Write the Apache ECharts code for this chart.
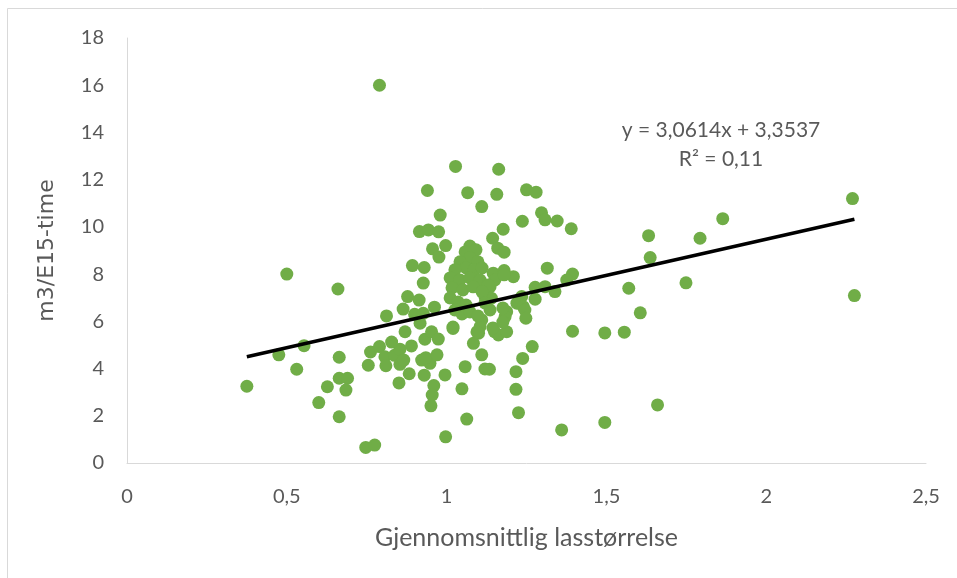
<!DOCTYPE html>
<html>
<head>
<meta charset="utf-8">
<script src="https://cdn.jsdelivr.net/npm/echarts@6/dist/echarts.min.js"></script>
<style>
  html, body { margin: 0; padding: 0; background: #fff; }
  #chart { width: 957px; height: 578px; }
</style>
</head>
<body>
<div id="chart"></div>
<script>
// gjennomsnittlig lasstørrelse (x)
var lastX = [
  0.375, 0.475, 0.50, 0.531, 0.554, 0.60, 0.627, 0.66, 0.664, 0.664,
  0.69, 0.685, 0.664, 0.747, 0.775, 0.79, 0.755, 0.762, 0.79, 0.807,
  0.837, 0.854, 0.81, 0.854, 0.866, 0.828, 0.89, 0.812, 0.864, 0.878,
  0.914, 0.90, 0.927, 0.917, 0.87, 0.932, 0.953, 0.974, 0.962, 0.922,
  0.948, 0.935, 0.97, 0.883, 0.93, 0.995, 0.851, 0.96, 0.955, 0.951,
  1.048, 1.063, 0.997, 1.058, 1.02, 0.915, 0.943, 0.975, 0.997, 0.956,
  0.976, 0.893, 0.93, 0.927, 0.94, 0.98, 1.028, 1.066, 1.11, 1.163,
  1.157, 1.25, 1.28, 1.297, 1.308, 1.346, 1.237, 1.39, 1.177, 1.144,
  1.16, 1.18, 1.315, 1.146, 1.18, 1.209, 1.394, 1.376, 1.277, 1.308,
  1.339, 1.136, 1.151, 1.235, 1.277, 1.12, 1.14, 1.22, 1.24, 1.188,
  1.183, 1.245, 1.248, 1.11, 1.105, 1.10, 1.084, 1.15, 1.162, 1.188,
  1.394, 1.268, 1.238, 1.11, 1.12, 1.134, 1.217, 1.217, 1.225, 1.36,
  1.495, 1.66, 1.495, 1.556, 1.606, 1.57, 1.749, 1.637, 1.632, 1.793,
  1.864, 2.27, 2.276,
  1.073, 1.092, 1.058, 1.073, 1.098, 1.042, 1.061, 1.026, 1.086, 1.111,
  1.011, 1.042, 1.073, 1.105, 1.130, 1.017, 1.051, 1.083, 1.111, 1.011,
  1.036, 1.061, 1.120, 1.136, 1.026, 1.048, 1.073, 1.098, 1.020, 1.095,
  1.145, 1.18, 1.176, 1.176
];
// m3/E15-time (y)
var m3Y = [
  3.25, 4.58, 8.0, 3.97, 4.97, 2.56, 3.23, 7.37, 4.48, 3.59,
  3.59, 3.09, 1.96, 0.66, 0.76, 16.0, 4.14, 4.7, 4.93, 4.5,
  4.56, 4.82, 4.12, 4.18, 4.36, 5.12, 4.96, 6.23, 6.52, 7.05,
  6.9, 6.3, 6.34, 5.92, 5.56, 5.24, 5.56, 5.25, 6.6, 4.36,
  4.22, 4.46, 4.58, 3.78, 3.72, 3.73, 3.39, 3.28, 2.88, 2.42,
  3.14, 1.86, 1.11, 4.08, 5.7, 9.8, 9.87, 9.79, 9.21, 9.07,
  8.72, 8.36, 8.28, 7.62, 11.54, 10.5, 12.56, 11.45, 10.86, 12.44,
  11.38, 11.57, 11.47, 10.6, 10.3, 10.25, 10.24, 9.92, 9.9, 9.52,
  9.1, 8.93, 8.25, 8.04, 8.15, 7.89, 8.0, 7.75, 7.44, 7.47,
  7.26, 7.47, 7.75, 7.05, 6.94, 7.05, 6.98, 6.77, 6.62, 6.41,
  6.2, 6.48, 6.13, 6.06, 5.78, 5.5, 5.07, 5.56, 5.42, 5.56,
  5.58, 4.93, 4.43, 4.58, 3.98, 3.97, 3.87, 3.12, 2.13, 1.4,
  1.72, 2.46, 5.51, 5.54, 6.36, 7.4, 7.63, 8.7, 9.63, 9.52,
  10.35, 11.2, 7.09,
  9.19, 9.03, 8.94, 8.69, 8.52, 8.52, 8.26, 8.18, 8.18, 8.26,
  7.84, 7.75, 7.84, 7.75, 7.54, 7.42, 7.33, 7.46, 7.25, 6.99,
  6.82, 6.69, 6.78, 6.48, 6.48, 6.31, 6.40, 6.23, 5.76, 5.55,
  5.72, 7.97, 6.57, 5.97
];
// trendlinje fra Excel: y = 3,0614x + 3,3537, R² = 0,11
var trendSlope = 3.0614;
var trendIntercept = 3.3537;
var xTicks = [0, 0.5, 1, 1.5, 2, 2.5];
var yTicks = [0, 2, 4, 6, 8, 10, 12, 14, 16, 18];

var points = lastX.map(function (x, i) { return [x, m3Y[i]]; });
var xMin = Math.min.apply(null, lastX);
var xMax = Math.max.apply(null, lastX);
var trend = [
  [xMin, trendSlope * xMin + trendIntercept],
  [xMax, trendSlope * xMax + trendIntercept]
];

var txt = '#595959';
var font = 'Lato, "Open Sans", sans-serif';

var myChart = echarts.init(document.getElementById('chart'));
var option = {
  animation: false,
  backgroundColor: '#fff',
  grid: { left: 127, right: 31, top: 38, bottom: 115 },
  xAxis: {
    type: 'value',
    min: xTicks[0],
    max: xTicks[xTicks.length - 1],
    interval: 0.5,
    name: 'Gjennomsnittlig lasstørrelse',
    nameLocation: 'middle',
    nameGap: 62,
    nameTextStyle: { color: txt, fontFamily: font, fontSize: 25 },
    axisLine: { show: true, lineStyle: { color: '#d9d9d9', width: 1 } },
    axisTick: { show: false },
    splitLine: { show: false },
    axisLabel: {
      color: txt, fontFamily: font, fontSize: 20, margin: 24,
      formatter: function (v) { return String(v).replace('.', ','); }
    }
  },
  yAxis: {
    type: 'value',
    min: yTicks[0],
    max: yTicks[yTicks.length - 1],
    interval: 2,
    name: 'm3/E15-time',
    nameLocation: 'middle',
    nameGap: 69,
    nameTextStyle: { color: txt, fontFamily: '"DejaVu Sans", sans-serif', fontSize: 22 },
    axisLine: { show: true, lineStyle: { color: '#d9d9d9', width: 1 } },
    axisTick: { show: false },
    splitLine: { show: false },
    axisLabel: { color: txt, fontFamily: font, fontSize: 20, margin: 23 }
  },
  graphic: [
    {
      type: 'polyline',
      shape: { points: [[7.5, 578], [7.5, 8.5], [957, 8.5]] },
      style: { stroke: '#d9d9d9', lineWidth: 1, fill: null },
      silent: true
    },
    {
      type: 'text', x: 721, y: 130,
      style: {
        text: 'y = 3,0614x + 3,3537', fill: txt, font: '21px ' + font,
        textAlign: 'center', textVerticalAlign: 'middle'
      }
    },
    {
      type: 'text', x: 721, y: 159,
      style: {
        text: 'R² = 0,11', fill: txt, font: '21px ' + font,
        textAlign: 'center', textVerticalAlign: 'middle'
      }
    }
  ],
  series: [
    {
      type: 'scatter',
      data: points,
      symbol: 'circle',
      symbolSize: 13,
      itemStyle: { color: '#70ad47', opacity: 1 },
      z: 2
    },
    {
      type: 'line',
      data: trend,
      showSymbol: false,
      symbol: 'none',
      lineStyle: { color: '#000', width: 3.5 },
      z: 3
    }
  ]
};
myChart.setOption(option);
window.onresize = myChart.resize;
</script>
</body>
</html>
